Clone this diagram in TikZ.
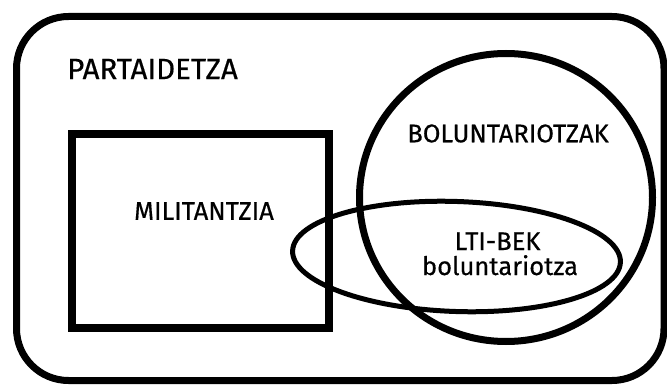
\documentclass[tikz,border=0pt]{standalone}
\usepackage{fontspec}
\setmainfont{Fira Sans}[FakeBold=0.5]
\newfontfamily\lblfont{Fira Sans}[FakeBold=0.5]
\begin{document}
\begin{tikzpicture}[x=1pt,y=-1pt,
  shapeline/.style={draw=black},
  lbl/.style={inner sep=0pt,align=center,font=\lblfont\fontsize{25.5}{28}\selectfont},
  title/.style={inner sep=0pt,anchor=west,font=\lblfont\fontsize{29.5}{33}\selectfont}]
\useasboundingbox (0,0) rectangle (667,385);
\fill[white] (0,0) rectangle (667,385);
% outer rounded rectangle
\draw[shapeline,line width=7pt,rounded corners=52pt] (16.5,16.5) rectangle (664,380.5);
% militantzia square
\draw[shapeline,line width=8pt] (72,134) rectangle (329,328);
% boluntariotzak circle
\draw[shapeline,line width=7pt] (506,197.5) ellipse [x radius=146.5pt, y radius=144pt];
% LTI-BEK ellipse
\draw[shapeline,line width=5pt,rotate around={-2:(456.5,256.5)}] (456.5,256.5) ellipse [x radius=164pt, y radius=55pt];
% labels
\node[title] (part) at (67,69) {PARTAIDETZA};
\node[lbl] (mil) at (204,211) {MILITANTZIA};
\node[lbl] (bol) at (508,133.5) {BOLUNTARIOTZAK};
\node[lbl,anchor=base] (lti) at (497.5,250) {LTI-BEK};
\node[lbl,anchor=base] (ltib) at (500,275) {boluntariotza};
\end{tikzpicture}
\end{document}
